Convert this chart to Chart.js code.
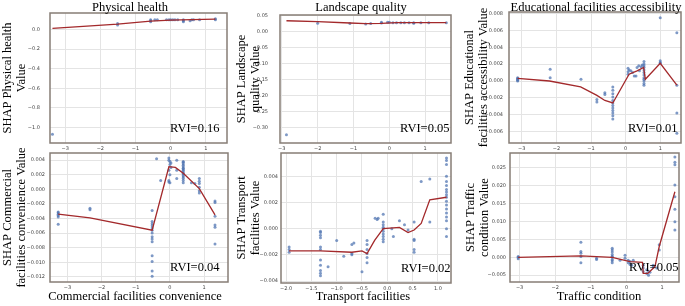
<!DOCTYPE html>
<html>
<head>
<meta charset="utf-8">
<title>SHAP dependence plots</title>
<script src="https://cdn.jsdelivr.net/npm/chart.js@4.4.1/dist/chart.umd.min.js"></script>
<style>
  html, body { margin: 0; padding: 0; background: #fff; }
  #wrap { position: relative; width: 685px; height: 306px; overflow: hidden; }
  #wrap canvas { position: absolute; left: 0; top: 0; }
</style>
</head>
<body>
<div id="wrap">
  <canvas id="c1" width="685" height="306"></canvas>
  <canvas id="c2" width="685" height="306"></canvas>
  <canvas id="c3" width="685" height="306"></canvas>
  <canvas id="c4" width="685" height="306"></canvas>
  <canvas id="c5" width="685" height="306"></canvas>
  <canvas id="c6" width="685" height="306"></canvas>
</div>
<script>
// --- tick labels ---
const intTicks = ['\u22123', '\u22122', '\u22121', '0', '1'];
const p5XTicks = ['\u22122.0', '\u22121.5', '\u22121.0', '\u22120.5', '0.0', '0.5', '1.0'];
const p1YTicks = ['0.0', '\u22120.2', '\u22120.4', '\u22120.6', '\u22120.8', '\u22121.0'];
const p2YTicks = ['0.05', '0.00', '\u22120.05', '\u22120.10', '\u22120.15', '\u22120.20', '\u22120.25', '\u22120.30'];
const p3YTicks = ['0.008', '0.006', '0.004', '0.002', '0.000', '\u22120.002', '\u22120.004', '\u22120.006'];
const p4YTicks = ['0.004', '0.002', '0.000', '\u22120.002', '\u22120.004', '\u22120.006', '\u22120.008', '\u22120.010', '\u22120.012'];
const p5YTicks = ['0.004', '0.002', '0.000', '\u22120.002', '\u22120.004'];
const p6YTicks = ['0.025', '0.020', '0.015', '0.010', '0.005', '0.000', '\u22120.005'];

// --- Physical health ---
const p1X = [-3.36, -1.51, -1.51, -0.57, -0.57, -0.57, -0.45, -0.38, -0.12, -0.05, 0.0, 0.06, 0.12, 0.2, 0.36, 0.36, 0.36, 0.55, 0.6, 0.65, 0.82, 1.27, 1.27];
const p1Y = [-1.07, 0.045, 0.06, 0.08, 0.09, 0.1, 0.1, 0.1, 0.1, 0.1, 0.1, 0.1, 0.1, 0.1, 0.08, 0.09, 0.1, 0.09, 0.1, 0.1, 0.1, 0.1, 0.11];
const p1LineX = [-3.36, -1.51, -0.57, 0.0, 0.6, 1.27];
const p1LineY = [0.012, 0.055, 0.086, 0.095, 0.1, 0.105];

// --- Landscape quality ---
const p2X = [-2.87, -2.0, -1.1, -0.66, -0.52, -0.22, -0.22, -0.05, 0.0, 0.1, 0.2, 0.32, 0.42, 0.55, 0.68, 0.68, 0.88, 1.1, 1.59];
const p2Y = [-0.322, 0.027, 0.026, 0.025, 0.026, 0.03, 0.028, 0.03, 0.03, 0.029, 0.029, 0.029, 0.029, 0.029, 0.029, 0.027, 0.029, 0.029, 0.029];
const p2LineX = [-2.87, -2.0, -1.1, -0.66, -0.22, 0.2, 1.0, 1.59];
const p2LineY = [0.035, 0.032, 0.028, 0.026, 0.027, 0.029, 0.029, 0.029];

// --- Educational facilities accessibility ---
const p3X = [-3.12, -3.12, -3.12, -3.12, -3.12, -2.18, -2.18, -1.29, -0.83, -0.83, -0.6, -0.6,
  -0.37, -0.37, -0.37, -0.37, -0.37, -0.37, -0.37, -0.37, -0.37, -0.37, -0.37, -0.37,
  0.07, 0.07, 0.07, 0.1, 0.15, 0.2, 0.25, 0.3, 0.33, 0.38, 0.4, 0.45, 0.48,
  0.53, 0.53, 0.53, 0.53, 0.53, 0.53, 0.53, 0.53, 0.53, 0.53, 0.53, 0.53,
  1.0, 1.0, 1.0, 1.0, 1.48, 1.48, 1.48, 1.48];
const p3Y = [0.0004, 0.0003, 0.0002, 0.0001, 0.0, 0.0014, 0.0004, 0.0002, -0.0022, -0.0025, -0.0014, -0.0016,
  -0.0007, -0.0011, -0.0015, -0.0019, -0.0023, -0.0026, -0.0029, -0.0032, -0.0035, -0.0038, -0.0041, -0.0045,
  0.0015, 0.0011, 0.0008, 0.0013, 0.0012, 0.001, 0.0006, 0.0006, 0.0016, 0.0018, 0.0012, 0.0017, 0.0019,
  0.0023, 0.002, 0.0018, 0.0016, 0.0013, 0.001, 0.0007, 0.0004, 0.0002, 0.0, -0.0003, -0.0005,
  0.0075, 0.0024, 0.0022, 0.0021, 0.0057, -0.0005, -0.0038, -0.0062];
const p3LineX = [-3.12, -2.2, -1.3, -0.83, -0.6, -0.37, 0.1, 0.33, 0.52, 0.57, 1.0, 1.48];
const p3LineY = [0.0003, 0.0, -0.0007, -0.0017, -0.0023, -0.0026, 0.0008, 0.0012, 0.0016, 0.0002, 0.0021, -0.0005];

// --- Commercial facilities convenience ---
const p4X = [-3.27, -3.27, -3.27, -3.27, -3.27, -3.27, -2.34, -2.34,
  -0.52, -0.52, -0.52, -0.52, -0.52, -0.52, -0.52, -0.52, -0.52, -0.52, -0.52, -0.52, -0.52, -0.52,
  -0.39, -0.27, -0.03, -0.03, -0.03, -0.03, -0.03, 0.0, 0.0, 0.0, 0.0, 0.03, 0.03, 0.2, 0.2, 0.2,
  0.39, 0.39, 0.39, 0.39, 0.39, 0.39, 0.39, 0.39, 0.39, 0.39, 0.39, 0.39, 0.39, 0.39, 0.39, 0.39,
  0.63, 0.73, 0.86, 0.86, 0.86, 0.86, 0.86, 0.86, 1.32, 1.32, 1.32, 1.32, 1.32, 1.32];
const p4Y = [-0.0031, -0.0032, -0.0034, -0.0036, -0.0038, -0.0048, -0.0026, -0.0028,
  -0.0029, -0.0044, -0.0047, -0.005, -0.0053, -0.0056, -0.006, -0.0065, -0.0068, -0.0072, -0.0091, -0.0099, -0.0112, -0.0119,
  0.0042, 0.0012, 0.0043, 0.004, 0.0026, 0.0012, 0.001, 0.0038, 0.0034, 0.002, 0.0009, 0.0036, 0.003, 0.004, 0.0026, 0.0015,
  0.0038, 0.0037, 0.0035, 0.0033, 0.0031, 0.0029, 0.0028, 0.0026, 0.0024, 0.0022, 0.0021, 0.0019, 0.0017, 0.0015, 0.0012, 0.0009,
  0.0009, 0.0008, 0.0015, 0.0011, 0.0008, 0.0003, -0.0002, -0.0005, -0.0016, -0.0018, -0.0037, -0.0049, -0.0052, -0.0075];
const p4LineX = [-3.27, -2.34, -0.52, -0.03, 0.16, 0.39, 0.86, 1.32];
const p4LineY = [-0.0034, -0.0039, -0.0056, 0.0031, 0.003, 0.0022, 0.0001, -0.0035];

// --- Transport facilities ---
const p5X = [-1.94, -1.94, -1.94,
  -1.32, -1.32, -1.32, -1.32, -1.32, -1.32, -1.32, -1.32, -1.32, -1.32, -1.32,
  -1.17, -1.0, -0.86, -0.7, -0.7, -0.7, -0.66, -0.5,
  -0.4, -0.4, -0.4, -0.4, -0.4, -0.4, -0.24, -0.2, -0.18,
  -0.08, -0.08, -0.08, -0.08, -0.08, -0.08, -0.08, -0.08, -0.08, -0.08,
  0.09, 0.12, 0.24, 0.34, 0.41, 0.53, 0.53, 0.53, 0.53, 0.53, 0.67, 0.84, 0.84,
  1.17, 1.17, 1.17, 1.17, 1.17, 1.17, 1.17, 1.17, 1.17, 1.17, 1.17, 1.17, 1.17, 1.17, 1.17, 1.17, 1.17, 1.17];
const p5Y = [-0.0014, -0.0016, -0.0018,
  -0.0002, -0.0003, -0.0005, -0.0007, -0.0014, -0.0016, -0.0024, -0.0028, -0.0032, -0.0034, -0.0036,
  -0.0029, -0.0009, -0.0021, -0.0012, -0.0019, -0.002, -0.0011, -0.0033,
  -0.0009, -0.0012, -0.0016, -0.0019, -0.0022, -0.0026, 0.0008, 0.0007, 0.0008,
  0.0011, 0.0005, 0.0003, 0.0001, 0.0, -0.0002, -0.0004, -0.0006, -0.0008, -0.001,
  0.0, -0.0006, 0.0006, 0.0003, -0.0001, 0.0005, -0.0008, -0.0009, -0.0016, -0.0018, 0.0036, 0.0038, 0.0005,
  0.0054, 0.0052, 0.0049, 0.004, 0.0036, 0.0033, 0.003, 0.0028, 0.0026, 0.0024, 0.0021, 0.0018, 0.0015, 0.0012, 0.0009, 0.0006, 0.0, -0.0006];
const p5LineX = [-1.94, -1.32, -0.7, -0.5, -0.4, -0.25, -0.08, 0.24, 0.41, 0.53, 0.67, 0.84, 1.17];
const p5LineY = [-0.0017, -0.0017, -0.0018, -0.0017, -0.0019, -0.0009, 0.0, 0.0001, -0.0003, -0.0001, 0.0004, 0.0022, 0.0024];

// --- Traffic condition ---
const p6X = [-3.04, -3.04, -3.04, -1.28, -1.28, -1.28, -1.28, -1.28, -0.84, -0.84,
  -0.4, -0.4, -0.4, -0.4, -0.4, -0.4, -0.4, -0.4, -0.4,
  -0.18, -0.04, -0.04, 0.05, 0.05, 0.1, 0.1, 0.15, 0.19,
  0.47, 0.47, 0.47, 0.57, 0.57, 0.62, 0.62, 0.66, 0.75, 0.75, 0.85, 0.92, 0.92,
  1.36, 1.36, 1.36, 1.36, 1.36, 1.36, 1.36, 1.36];
const p6Y = [0.0002, 0.0, -0.0004, 0.0042, 0.0016, 0.0011, 0.0002, -0.0015, -0.0003, -0.0006,
  0.0025, 0.002, 0.0015, 0.0008, 0.0003, 0.0, -0.0006, -0.001, -0.0015,
  -0.0008, 0.0006, -0.0003, -0.0008, -0.0015, -0.0012, -0.002, -0.0022, -0.0008,
  -0.0022, -0.003, -0.004, -0.0035, -0.0045, -0.004, -0.005, -0.0042, -0.0022, -0.0028, -0.003, 0.0035, 0.002,
  0.028, 0.0265, 0.0258, 0.0202, 0.0169, 0.0134, 0.0099, 0.0076];
const p6LineX = [-3.04, -1.28, -0.4, 0.1, 0.45, 0.47, 0.6, 0.8, 0.92, 1.36];
const p6LineY = [0.0, 0.0004, 0.0, -0.0012, -0.0014, -0.0045, -0.0045, -0.0026, 0.003, 0.0183];

// page layout of the six panels (plot box in page pixels, axis ranges, text spots)
const panels = [
  { id: 'c1', box: [50, 12, 227, 143], x: [-3.43, 1.6], y: [-1.158, 0.168],
    px: p1X, py: p1Y, lx: p1LineX, ly: p1LineY, xt: intTicks, yt: p1YTicks, ypad: 10,
    title: 'Physical health', titleX: 130, yTitle: ['SHAP Physical health', 'Value'], yTitleX: [10.5, 24.5],
    rvi: 'RVI=0.16', rviX: 219.5 },
  { id: 'c2', box: [280, 12, 451, 143], x: [-3.05, 1.72], y: [-0.348, 0.053],
    px: p2X, py: p2Y, lx: p2LineX, ly: p2LineY, xt: intTicks, yt: p2YTicks, ypad: 12,
    title: 'Landscape quality', titleX: 361, yTitle: ['SHAP Landscape', 'quality Value'], yTitleX: [244.5, 258.5],
    rvi: 'RVI=0.05', rviX: 449.5 },
  { id: 'c3', box: [509, 12, 681, 143], x: [-3.37, 1.6], y: [-0.00734, 0.00817],
    px: p3X, py: p3Y, lx: p3LineX, ly: p3LineY, xt: intTicks, yt: p3YTicks, ypad: 6,
    title: 'Educational facilities accessibility', titleX: 596, yTitle: ['SHAP Educational', 'facilities accessibility Value'], yTitleX: [473, 487],
    rvi: 'RVI=0.01', rviX: 677.5 },
  { id: 'c4', box: [50, 153, 228, 282], x: [-3.51, 1.7], y: [-0.0127, 0.00498],
    px: p4X, py: p4Y, lx: p4LineX, ly: p4LineY, xt: intTicks, yt: p4YTicks, ypad: 5,
    xTitle: 'Commercial facilities convenience', xTitleX: 135, yTitle: ['SHAP Commercial', 'facilities convenience Value'], yTitleX: [10.5, 24.5],
    rvi: 'RVI=0.04', rviX: 219.5 },
  { id: 'c5', box: [281, 153, 451, 283], x: [-2.1, 1.259], y: [-0.00415, 0.00578],
    px: p5X, py: p5Y, lx: p5LineX, ly: p5LineY, xt: p5XTicks, yt: p5YTicks, ypad: 3,
    xTitle: 'Transport facilities', xTitleX: 363, yTitle: ['SHAP Transport', 'facilities Value'], yTitleX: [244.5, 259],
    rvi: 'RVI=0.02', rviX: 450.5 },
  { id: 'c6', box: [510, 153, 679, 282], x: [-3.27, 1.475], y: [-0.0069, 0.0291],
    px: p6X, py: p6Y, lx: p6LineX, ly: p6LineY, xt: intTicks, yt: p6YTicks, ypad: 4,
    xTitle: 'Traffic condition', xTitleX: 599, yTitle: ['SHAP Traffic', 'condition Value'], yTitleX: [473.5, 488],
    rvi: 'RVI=0.05', rviX: 678.5 }
];

const SERIF = '12.5px "Liberation Serif", "Times New Roman", serif';
const tickNum = s => parseFloat(s.replace('\u2212', '-'));

// box, panel title, axis titles and RVI note
const panelText = {
  id: 'panelText',
  afterDraw(chart, args, o) {
    const ctx = chart.ctx;
    const a = chart.chartArea;
    ctx.save();
    ctx.strokeStyle = '#877d76';
    ctx.lineWidth = 1.5;
    ctx.strokeRect(a.left, a.top, a.right - a.left, a.bottom - a.top);
    ctx.fillStyle = '#000';
    ctx.font = SERIF;
    ctx.textBaseline = 'alphabetic';
    ctx.textAlign = 'center';
    if (o.title) ctx.fillText(o.title, o.titleX, 11);
    if (o.xTitle) ctx.fillText(o.xTitle, o.xTitleX, 300);
    const midY = (a.top + a.bottom) / 2;
    o.yTitle.forEach((line, i) => {
      ctx.save();
      ctx.translate(o.yTitleX[i], midY);
      ctx.rotate(-Math.PI / 2);
      ctx.fillText(line, 0, 0);
      ctx.restore();
    });
    ctx.textAlign = 'right';
    ctx.fillText(o.rvi, o.rviX, a.bottom - 11.5);
    ctx.restore();
  }
};

const YW = 30, XH = 12;

panels.forEach(p => {
  const [l, t, r, b] = p.box;
  const tickFont = { family: '"DejaVu Sans", sans-serif', size: 5 };
  new Chart(document.getElementById(p.id), {
    type: 'scatter',
    data: {
      datasets: [
        {
          data: p.lx.map((v, i) => ({ x: v, y: p.ly[i] })),
          showLine: true,
          pointRadius: 0,
          borderColor: '#a3292b',
          borderWidth: 1.3,
          tension: 0,
          order: 0
        },
        {
          data: p.px.map((v, i) => ({ x: v, y: p.py[i] })),
          pointRadius: 1.5,
          borderWidth: 0,
          backgroundColor: 'rgba(76, 114, 176, 0.72)',
          order: 1
        }
      ]
    },
    options: {
      responsive: false,
      animation: false,
      events: [],
      layout: { padding: { left: l - YW, right: 685 - r, top: t, bottom: 306 - b - XH } },
      plugins: {
        legend: { display: false },
        tooltip: { enabled: false },
        panelText: p
      },
      scales: {
        x: {
          type: 'linear',
          min: p.x[0], max: p.x[1],
          grid: { color: '#e4e4e4', lineWidth: 1, drawTicks: false },
          border: { display: false },
          ticks: {
            font: tickFont, color: '#444', padding: 3, maxRotation: 0, autoSkip: false,
            callback: (v, i) => p.xt[i]
          },
          afterBuildTicks: s => { s.ticks = p.xt.map(t => ({ value: tickNum(t) })); },
          afterFit: s => { s.height = XH; }
        },
        y: {
          type: 'linear',
          min: p.y[0], max: p.y[1],
          grid: { color: '#e4e4e4', lineWidth: 1, drawTicks: false },
          border: { display: false },
          ticks: {
            font: tickFont, color: '#444', padding: p.ypad, autoSkip: false,
            callback: (v, i) => p.yt[i]
          },
          afterBuildTicks: s => { s.ticks = p.yt.map(t => ({ value: tickNum(t) })); },
          afterFit: s => { s.width = YW; }
        }
      }
    },
    plugins: [panelText]
  });
});
</script>
</body>
</html>
